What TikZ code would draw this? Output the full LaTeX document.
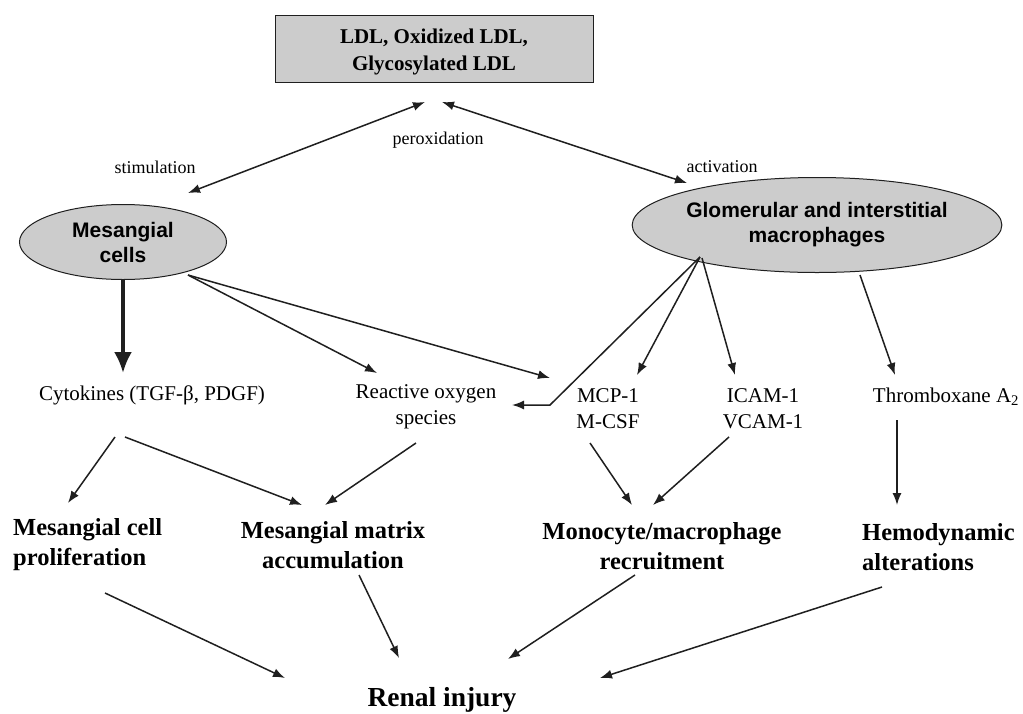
\documentclass[tikz,border=0pt]{standalone}
\usepackage{fontspec}
\setmainfont{Liberation Serif}
\newfontfamily\sansf{Liberation Sans}
\usetikzlibrary{shapes.geometric,arrows.meta,calc}
\definecolor{boxgray}{gray}{0.80}
\definecolor{ink}{gray}{0.12}
\begin{document}
\begin{tikzpicture}[x=1pt,y=-1pt,
  arr/.style={draw=ink,line width=1.5pt,-{Latex[length=12pt,width=9pt]}},
  darr/.style={draw=ink,line width=1.5pt,{Latex[length=12pt,width=9pt]}-{Latex[length=12pt,width=9pt]}},
  thickarr/.style={draw=ink,line width=3.4pt,-{Latex[length=21pt,width=18pt]}},
  ovalnode/.style={ellipse,draw=ink,line width=1pt,fill=boxgray,inner sep=0pt,align=center,
    font=\sansf\bfseries\fontsize{21}{25}\selectfont},
  plain/.style={inner sep=0pt,align=center,font=\fontsize{21}{26}\selectfont},
  bold/.style={inner sep=0pt,font=\bfseries\fontsize{24.5}{30}\selectfont},
  small/.style={inner sep=0pt,font=\fontsize{18}{22}\selectfont}]
\useasboundingbox (0,0) rectangle (1023,713);
\fill[white] (0,0) rectangle (1023,713);

\node[draw=ink,line width=1pt,fill=boxgray,minimum width=318pt,minimum height=67pt,inner sep=0pt,
  align=center,font=\bfseries\fontsize{21}{27}\selectfont] (ldl) at (434,48.5) {\rule{0pt}{21pt}LDL, Oxidized LDL,\\Glycosylated LDL};

\node[ovalnode,minimum width=207pt,minimum height=75pt] (mes) at (123,242) {Mesangial\\cells};
\node[ovalnode,minimum width=311pt,minimum height=95pt] (mac) at (817,225) {Glomerular and interstitial\\macrophages};

\node[small] (stim) at (155,167) {stimulation};
\node[small] (perox) at (438,140) {peroxidation};
\node[small] (activ) at (722,167) {activation};

\node[plain] (cyt) at (152,395) {Cytokines (TGF-β, PDGF)};
\node[plain] (ros) at (426,407) {Reactive oxygen\\species};
\node[plain] (mcp) at (608,409) {MCP-1\\M-CSF};
\node[plain] (icam) at (763,409) {ICAM-1\\VCAM-1};
\node[plain] (txa) at (946,397) {Thromboxane A\textsubscript{2}};

\node[bold,anchor=west,align=left] (prol) at (13,545) {Mesangial cell\\proliferation};
\node[bold,align=center] (matrix) at (333,545) {Mesangial matrix\\accumulation};
\node[bold,align=center] (recr) at (662,546) {Monocyte/macrophage\\recruitment};
\node[bold,anchor=west,align=left] (hemo) at (862,547) {Hemodynamic\\alterations};
\node[inner sep=0pt,font=\bfseries\fontsize{27.5}{32}\selectfont] (renal) at (442,700) {Renal injury};

% top double arrows
\draw[darr] ($(ldl)+(-9,53.5)$) -- ($(mes)+(65,-49)$);
\draw[darr] ($(ldl)+(8,53.5)$) -- ($(mac)+(-130,-42)$);

% mesangial cells
\draw[thickarr] ($(mes)+(0,38)$) -- ($(cyt)+(-29,-22)$);
\draw[arr] ($(mes)+(65,33)$) -- ($(ros)+(-49,-34)$);
\draw[arr] ($(mes)+(65,33)$) -- ($(mcp)+(-58,-31)$);

% macrophages
\draw[arr] ($(mac)+(-117,32)$) -- ($(mcp)+(-58,-4)$) -- ($(ros)+(86,-2)$);
\draw[arr] ($(mac)+(-117,32)$) -- ($(mcp)+(29,-34)$);
\draw[arr] ($(mac)+(-115,33)$) -- ($(icam)+(-28,-34)$);
\draw[arr] ($(mac)+(43,50)$) -- ($(txa)+(-51,-22)$);

% middle row to outcomes
\draw[arr] ($(cyt)+(-37,42)$) -- ($(prol.west)+(55,-42)$);
\draw[arr] ($(cyt)+(-27,42)$) -- ($(matrix)+(-31,-40)$);
\draw[arr] ($(ros)+(-10,36)$) -- ($(matrix)+(-8,-40)$);
\draw[arr] ($(mcp)+(-18,34)$) -- ($(recr)+(-30,-41)$);
\draw[arr] ($(icam)+(-34,28)$) -- ($(recr)+(-9,-41)$);
\draw[arr] ($(txa)+(-49,23)$) -- ($(hemo.west)+(35,-42)$);

% to renal injury
\draw[arr] ($(prol.west)+(92,48)$) -- ($(renal)+(-157,-22)$);
\draw[arr] ($(matrix)+(26,30)$) -- ($(renal)+(-43,-42)$);
\draw[arr] ($(recr)+(-27,29)$) -- ($(renal)+(66,-41)$);
\draw[arr] ($(hemo.west)+(20,40)$) -- ($(renal)+(158,-22)$);
\end{tikzpicture}
\end{document}
